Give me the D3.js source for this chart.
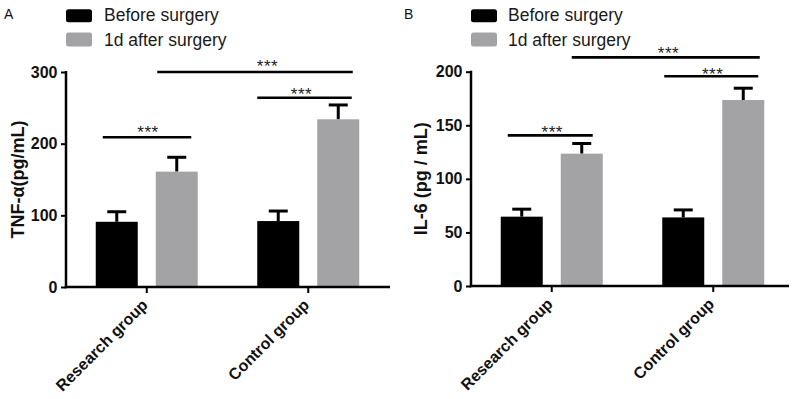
<!DOCTYPE html>
<html><head><meta charset="utf-8">
<script src="https://cdn.jsdelivr.net/npm/d3@7"></script>
<style>body{margin:0;background:#fff}svg{display:block;font-family:"Liberation Sans",Arial,Helvetica,sans-serif}</style>
</head><body><svg id="c" width="800" height="399"></svg>
<script>
// ---------- data ----------
const groups = ["Research group", "Control group"];
const seriesNames = ["Before surgery", "1d after surgery"];
const panelLetters = ["A", "B"];
const yTitles = ["TNF-α(pg/mL)", "IL-6 (pg / mL)"];

const tnfBefore = [91, 92];
const tnfAfter = [161, 234];
const tnfBeforeErr = [14, 14];
const tnfAfterErr = [20, 20];
const tnfTicks = [0, 100, 200, 300];

const il6Before = [64.7, 64];
const il6After = [123.5, 173.6];
const il6BeforeErr = [7, 7];
const il6AfterErr = [9.5, 11];
const il6Ticks = [0, 50, 100, 150, 200];

const sigLabel = "***";
// [fromGroup, fromSeries, toGroup, toSeries, level]
const tnfSig = [[0, 0, 0, 1, 209], [1, 0, 1, 1, 264], [0, 1, 1, 1, 300]];
const il6Sig = [[0, 0, 0, 1, 140.6], [1, 0, 1, 1, 195.7], [0, 1, 1, 1, 213.4]];

// ---------- layout ----------
const colors = ["#000000", "#a3a3a6"];
const panels = [
  { letter: panelLetters[0], title: yTitles[0], before: tnfBefore, after: tnfAfter,
    beforeErr: tnfBeforeErr, afterErr: tnfAfterErr, ticks: tnfTicks, sig: tnfSig,
    axisX: 66, axisEnd: 390, band: [66, 389], y0: 287, yTop: 72,
    letterX: 4, legendX: 66, legendTextX: 104, titleX: 24,
    sigOff: [[-14, 14.5, 1, 9], [-21, 13.5, -3, 7.5], [-19.5, 14.5, 12.5, 10]] },
  { letter: panelLetters[1], title: yTitles[1], before: il6Before, after: il6After,
    beforeErr: il6BeforeErr, afterErr: il6AfterErr, ticks: il6Ticks, sig: il6Sig,
    axisX: 471, axisEnd: 789, band: [471, 794], y0: 286, yTop: 71.7,
    letterX: 404, legendX: 471, legendTextX: 508, titleX: 427,
    sigOff: [[-14, 11, 2, 7], [-19, 15, 1.4, 6], [-10, 16.5, 2.7, 8]] }
];

const svg = d3.select("#c");

panels.forEach(p => {
  const g = svg.append("g");
  const yMax = p.ticks[p.ticks.length - 1];
  const y = d3.scaleLinear().domain([0, yMax]).range([p.y0, p.yTop]);
  const x0 = d3.scaleBand().domain(groups).range(p.band).padding(0);
  const x1 = d3.scaleBand().domain(seriesNames).range([-60, 60]).paddingInner(0.3).paddingOuter(0.15);

  const rows = [];
  groups.forEach((gr, i) => {
    rows.push({ g: gr, s: seriesNames[0], v: p.before[i], e: p.beforeErr[i], c: colors[0] });
    rows.push({ g: gr, s: seriesNames[1], v: p.after[i], e: p.afterErr[i], c: colors[1] });
  });
  const cx = (gr, s) => x0(gr) + x0.bandwidth() / 2 + x1(s) + x1.bandwidth() / 2;

  // error bars (drawn first, behind bars)
  const eb = g.append("g").attr("stroke", "#000").attr("stroke-width", 3);
  rows.forEach(r => {
    const c = cx(r.g, r.s);
    eb.append("line").attr("x1", c).attr("x2", c).attr("y1", y(r.v)).attr("y2", y(r.v + r.e));
    eb.append("line").attr("x1", c - 9.5).attr("x2", c + 9.5).attr("y1", y(r.v + r.e)).attr("y2", y(r.v + r.e));
  });

  // bars
  g.append("g").selectAll("rect").data(rows).join("rect")
    .attr("x", d => cx(d.g, d.s) - x1.bandwidth() / 2)
    .attr("width", x1.bandwidth())
    .attr("y", d => y(d.v))
    .attr("height", d => y(0) - y(d.v))
    .attr("fill", d => d.c);

  // y axis
  const ya = g.append("g").attr("transform", `translate(${p.axisX},0)`)
    .call(d3.axisLeft(y).tickValues(p.ticks).tickSize(5).tickPadding(3.5).tickFormat(d3.format("d")));
  ya.select(".domain").remove();
  ya.selectAll(".tick line").attr("stroke", "#000").attr("stroke-width", 2);
  ya.selectAll("text").attr("font-size", 16).attr("font-weight", "bold").attr("fill", "#111")
    .attr("font-family", '"Liberation Sans",Arial,sans-serif');
  g.append("line").attr("x1", p.axisX).attr("x2", p.axisX).attr("y1", y(yMax) - 1).attr("y2", p.y0 + 1.2)
    .attr("stroke", "#000").attr("stroke-width", 2.5);

  // x axis
  const xa = g.append("g").attr("transform", `translate(0,${p.y0})`)
    .call(d3.axisBottom(x0).tickSize(6).tickFormat(""));
  xa.select(".domain").remove();
  xa.selectAll(".tick line").attr("stroke", "#000").attr("stroke-width", 2);
  g.append("line").attr("x1", p.axisX - 1.2).attr("x2", p.axisEnd).attr("y1", p.y0).attr("y2", p.y0)
    .attr("stroke", "#000").attr("stroke-width", 2.5);
  g.append("g").selectAll("text").data(groups).join("text")
    .attr("transform", d => `translate(${x0(d) + x0.bandwidth() / 2 + 2},${p.y0 + 19}) rotate(-45)`)
    .attr("text-anchor", "end").attr("font-size", 16).attr("font-weight", "bold").attr("fill", "#111")
    .text(d => d);

  // y title
  g.append("text")
    .attr("transform", `translate(${p.titleX},${(p.y0 + p.yTop) / 2 + 0}) rotate(-90)`)
    .attr("text-anchor", "middle").attr("font-size", 18).attr("font-weight", "bold").attr("fill", "#111")
    .text(p.title);

  // significance brackets
  p.sig.forEach((s, i) => {
    const o = p.sigOff[i];
    const xa1 = cx(groups[s[0]], seriesNames[s[1]]) + o[0];
    const xa2 = cx(groups[s[2]], seriesNames[s[3]]) + o[1];
    const ly = y(s[4]);
    g.append("line").attr("x1", xa1).attr("x2", xa2).attr("y1", ly).attr("y2", ly)
      .attr("stroke", "#000").attr("stroke-width", 2.6);
    g.append("text").attr("x", (xa1 + xa2) / 2 + o[2]).attr("y", ly - o[3] + 9.8)
      .attr("text-anchor", "middle").attr("font-size", 17).attr("letter-spacing", 0.5)
      .attr("fill", "#222").text(sigLabel);
  });

  // legend
  const lg = g.append("g");
  seriesNames.forEach((s, i) => {
    lg.append("rect").attr("x", p.legendX).attr("y", i === 0 ? 9.3 : 32.5)
      .attr("width", 26).attr("height", i === 0 ? 13 : 14).attr("rx", 2.5)
      .attr("fill", colors[i]);
    lg.append("text").attr("x", p.legendTextX).attr("y", i === 0 ? 21 : 45.5)
      .attr("font-size", 17.5).attr("fill", "#1a1a1a").text(s);
  });

  // panel letter
  g.append("text").attr("x", p.letterX).attr("y", 18.5).attr("font-size", 14)
    .attr("fill", "#111").text(p.letter);
});
</script></body></html>
